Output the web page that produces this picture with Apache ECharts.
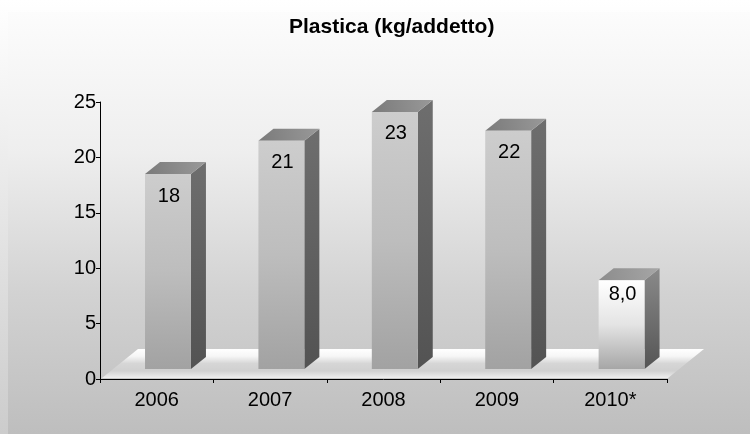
<!DOCTYPE html>
<html>
<head>
<meta charset="utf-8">
<script src="https://cdn.jsdelivr.net/npm/echarts@6/dist/echarts.min.js"></script>
<style>html,body{margin:0;padding:0;background:#fff}#c{width:750px;height:434px}</style>
</head>
<body>
<div id="c"></div>
<script>
// ---- data ----
const categories = ['2006', '2007', '2008', '2009', '2010*'];
const values = [17.6, 20.6, 23.2, 21.5, 8.0];
const valueLabels = ['18', '21', '23', '22', '8,0'];
const yMin = 0, yMax = 25, yStep = 5;
const titleText = 'Plastica (kg/addetto)';

const FONT = '"Liberation Sans", Arial, sans-serif';
const chart = echarts.init(document.getElementById('c'), null, {renderer: 'canvas'});

function lg(x1, y1, x2, y2, stops) {
  return new echarts.graphic.LinearGradient(x1, y1, x2, y2,
    stops.map((c, i) => ({offset: i / (stops.length - 1), color: c})));
}

// 3D look constants (styling only)
const DEPTH_X = 15, DEPTH_Y = 12, LIFT = 10;
const FLOOR_DX = 36, FLOOR_DY = 29;

function renderFloor(params, api) {
  const cs = params.coordSys;
  const y0 = cs.y + cs.height - 1;
  const x0 = cs.x + 2, x1 = cs.x + cs.width + 1;
  return {
    type: 'polygon',
    shape: {points: [[x0, y0], [x0 + FLOOR_DX, y0 - FLOOR_DY], [x1 + FLOOR_DX, y0 - FLOOR_DY], [x1, y0]]},
    style: {fill: lg(0, 0, 0, 1, ['#ffffff', '#f6f6f6', '#d6d6d6', '#d0d0d0', '#eeeeee'])},
    silent: true
  };
}

function renderBar(params, api) {
  const idx = api.value(0);
  const val = api.value(1);
  const catW = api.size([1, 0])[0];
  const base = api.coord([idx, 0]);
  const top = api.coord([idx, val]);
  const left = base[0] - catW * 0.103;
  const w = catW * 0.405;
  const yb = base[1] - LIFT;
  const yt = top[1] - LIFT;
  const est = categories[idx].endsWith('*');
  const frontFill = est ? lg(0, 0, 0, 1, ['#ffffff', '#e4e4e4', '#a6a6a6'])
                        : lg(0, 0, 0, 1, ['#cdcdcd', '#bdbdbd', '#a2a2a2']);
  const sideFill = est ? lg(0, 0, 0, 1, ['#8a8a8a', '#555555'])
                       : lg(0, 0, 0, 1, ['#6e6e6e', '#535353']);
  const topFill = est ? lg(0, 1, 1, 0, ['#8c8c8c', '#a6a6a6'])
                      : lg(0, 1, 1, 0, ['#7a7a7a', '#999999']);
  const h = yb - yt;
  const labOff = Math.min(21, h * 0.15);
  return {
    type: 'group',
    children: [
      {type: 'polygon', shape: {points: [[left + w, yt], [left + w + DEPTH_X, yt - DEPTH_Y], [left + w + DEPTH_X, yb - DEPTH_Y], [left + w, yb]]}, style: {fill: sideFill}},
      {type: 'polygon', shape: {points: [[left, yt], [left + DEPTH_X, yt - DEPTH_Y], [left + w + DEPTH_X, yt - DEPTH_Y], [left + w, yt]]}, style: {fill: topFill}},
      {type: 'rect', shape: {x: left, y: yt, width: w, height: h}, style: {fill: frontFill}},
      {type: 'text', x: left + w / 2 + 1, y: yt + labOff + 1, style: {text: valueLabels[idx], fill: '#000', font: '20px ' + FONT, align: 'center', verticalAlign: 'middle'}}
    ]
  };
}

chart.setOption({
  animation: false,
  backgroundColor: lg(0, 0, 0, 1, ['#ffffff', '#cccccc']),
  graphic: [
    {type: 'rect', z: -10, shape: {x: 8, y: 12, width: 742, height: 422}, style: {fill: lg(0, 0, 0, 1, ['#fcfcfc', '#eeeeee', '#d2d2d2', '#bebebe'])}, silent: true}
  ],
  title: {
    text: titleText, left: 284, top: 12,
    textStyle: {fontFamily: FONT, fontSize: 21, fontWeight: 'bold', color: '#000'}
  },
  grid: {left: 100, right: 83, top: 102, bottom: 55, containLabel: false},
  xAxis: {
    type: 'category', data: categories, boundaryGap: true,
    axisLine: {lineStyle: {color: '#000', width: 1}},
    axisTick: {show: true, length: 4, lineStyle: {color: '#000'}},
    axisLabel: {color: '#000', fontSize: 20, fontFamily: FONT, margin: 11},
    splitLine: {show: false}
  },
  yAxis: {
    type: 'value', min: yMin, max: yMax, interval: yStep,
    axisLine: {show: true, lineStyle: {color: '#000', width: 1}},
    axisTick: {show: true, length: 4, lineStyle: {color: '#000'}},
    axisLabel: {color: '#000', fontSize: 20, fontFamily: FONT, margin: 4},
    splitLine: {show: false}
  },
  series: [
    {type: 'custom', renderItem: renderFloor, data: [[0, 0]], z: 1, silent: true},
    {type: 'custom', renderItem: renderBar, data: values.map((v, i) => [i, v]), z: 3,
     encode: {x: 0, y: 1}}
  ]
});
</script>
</body>
</html>
